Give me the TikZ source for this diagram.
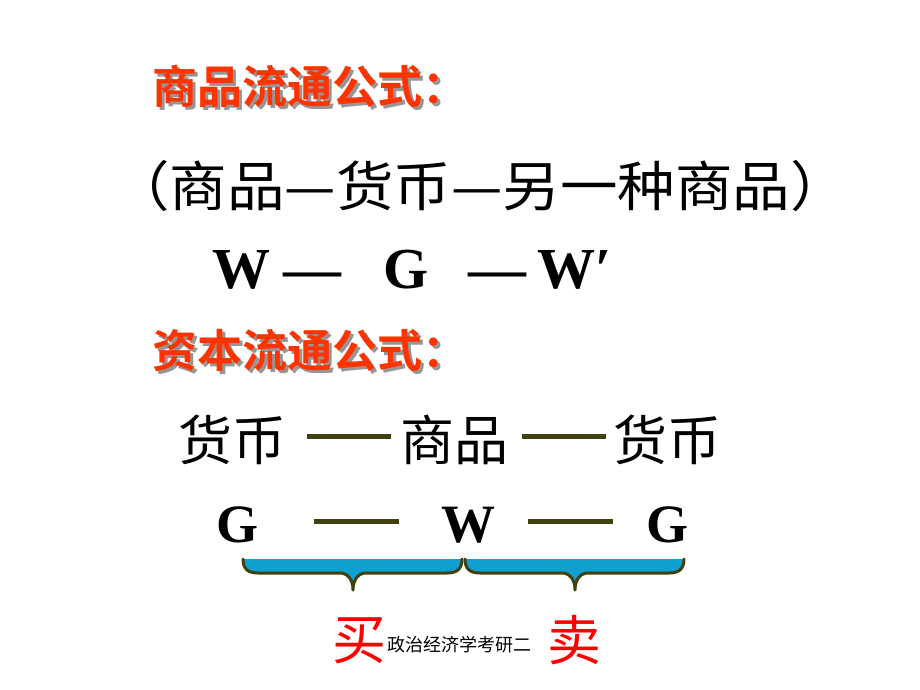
\documentclass[tikz,border=0pt]{standalone}
\usepackage{fontspec}
\setmainfont{Liberation Serif}
\newfontfamily\cjk{Noto Sans CJK SC}
\newfontfamily\cjkb{Noto Sans CJK SC Bold}
\definecolor{tred}{RGB}{255,51,0}
\definecolor{shadegray}{RGB}{150,150,150}
\definecolor{barolive}{RGB}{64,64,16}
\definecolor{braceblue}{RGB}{16,160,208}
\definecolor{sellred}{RGB}{255,0,0}
\newcommand{\shadowed}[1]{\makebox[0pt][l]{\hspace{3pt}\raisebox{-3pt}{\color{shadegray}#1}}#1}
\begin{document}
\begin{tikzpicture}[x=1pt,y=-1pt,
  titletxt/.style={font=\cjkb\fontsize{45}{45}\selectfont, text=tred, anchor=west, inner sep=0pt},
  cjkbig/.style={font=\cjk\fontsize{54}{54}\selectfont, inner sep=0pt, xscale=1.065, transform shape},
  cjkline/.style={font=\cjk\fontsize{54}{54}\selectfont, inner sep=0pt},
  latinA/.style={font=\bfseries\fontsize{58}{58}\selectfont, anchor=base west, inner sep=0pt},
  latinB/.style={font=\bfseries\fontsize{54}{54}\selectfont, anchor=base west, inner sep=0pt},
  bar/.style={draw=barolive, line width=5pt},
  bracefill/.style={fill=braceblue},
  braceline/.style={draw=barolive, line width=3pt, line join=round, line cap=round},
  buysell/.style={font=\cjk\fontsize{54}{54}\selectfont, text=sellred, inner sep=0pt},
  smalltxt/.style={font=\cjk\fontsize{18}{18}\selectfont, inner sep=0pt}]
\useasboundingbox (0,0) rectangle (920,690);

% titles with shadow
\node[titletxt] (t1) at (152,88) {\shadowed{商品流通公式：}};
\node[titletxt] (t2) at (152,352) {\shadowed{资本流通公式：}};

% line 2
\node[cjkbig] (l2) at (480,186) {（商品—货币—另一种商品）};

% line 3
\node[latinA] (w1) at (212,288) {W};
\node[latinA] (d1) at (283,288) {—};
\node[latinA] (g1) at (383,288) {G};
\node[latinA] (d2) at (468,288) {—};
\node[latinA] (w2) at (537,288) {W′};

% line 5
\node[cjkline] (hb1) at (232,440) {货币};
\node[cjkline] (sp) at (454,440) {商品};
\node[cjkline] (hb2) at (667,440) {货币};
\coordinate (b1a) at (307,436);
\coordinate (b1b) at (391,436);
\coordinate (b2a) at (522,436);
\coordinate (b2b) at (606,436);
\draw[bar] (b1a) -- (b1b);
\draw[bar] (b2a) -- (b2b);

% line 6
\node[latinB] (G1) at (216,542) {G};
\node[latinB] (W) at (441,542) {W};
\node[latinB] (G2) at (646,542) {G};
\coordinate (c1a) at (314,521);
\coordinate (c1b) at (399,521);
\coordinate (c2a) at (528,521);
\coordinate (c2b) at (613,521);
\draw[bar] (c1a) -- (c1b);
\draw[bar] (c2a) -- (c2b);

% braces
\fill[bracefill] (243,559) .. controls (243,569) and (248,573) .. (258,573) -- (340,573)
  .. controls (348,573) and (353,580) .. (353,590) .. controls (353,580) and (358,573) .. (366,573)
  -- (447,573) .. controls (457,573) and (462,569) .. (462,559) -- cycle;
\draw[braceline] (243,559) .. controls (243,569) and (248,573) .. (258,573) -- (340,573)
  .. controls (348,573) and (353,580) .. (353,590) .. controls (353,580) and (358,573) .. (366,573)
  -- (447,573) .. controls (457,573) and (462,569) .. (462,559);
\fill[bracefill] (465,559) .. controls (465,569) and (470,573) .. (480,573) -- (562,573)
  .. controls (570,573) and (575,580) .. (575,590) .. controls (575,580) and (580,573) .. (588,573)
  -- (669,573) .. controls (679,573) and (684,569) .. (684,559) -- cycle;
\draw[braceline] (465,559) .. controls (465,569) and (470,573) .. (480,573) -- (562,573)
  .. controls (570,573) and (575,580) .. (575,590) .. controls (575,580) and (580,573) .. (588,573)
  -- (669,573) .. controls (679,573) and (684,569) .. (684,559);

% bottom
\node[buysell] (buy) at (359,641) {买};
\node[smalltxt] (note) at (459,645) {政治经济学考研二};
\node[buysell] (sell) at (574,640) {卖};
\end{tikzpicture}
\end{document}
